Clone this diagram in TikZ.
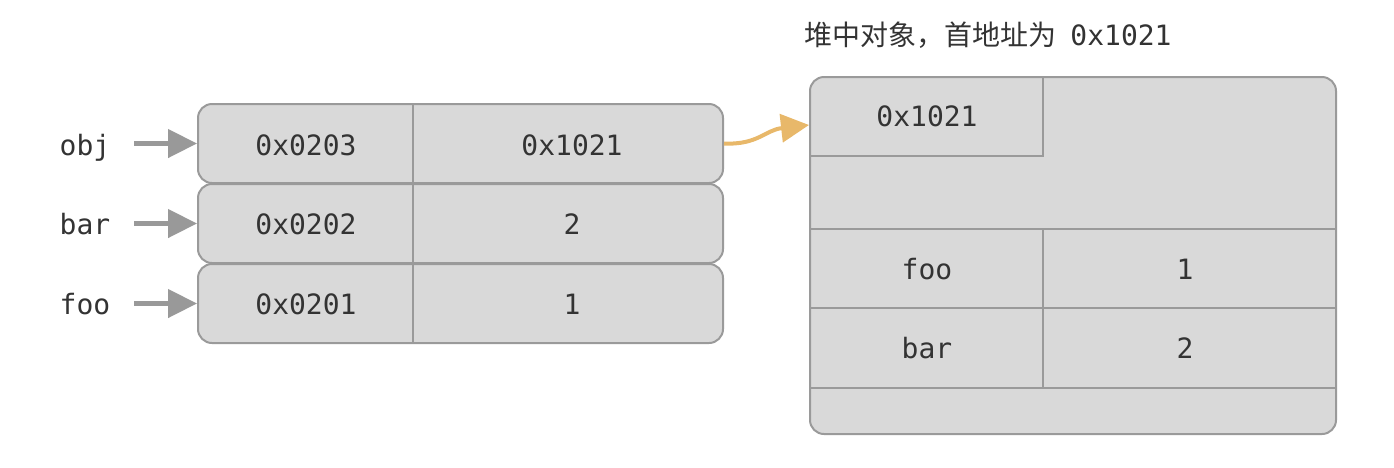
\documentclass[tikz,border=0pt]{standalone}
\usepackage{fontspec}
\setmonofont{DejaVu Sans Mono}
\newfontfamily\cjk{Noto Sans CJK SC}
\usetikzlibrary{arrows.meta}
\definecolor{boxfill}{HTML}{D9D9D9}
\definecolor{boxline}{HTML}{9A9A9A}
\definecolor{txt}{HTML}{333333}
\definecolor{arrowgray}{HTML}{999999}
\definecolor{orangeline}{HTML}{E8B86A}
\tikzset{
  rowbox/.style={draw=boxline, fill=boxfill, line width=2pt, rounded corners=14pt,
    minimum width=525pt, minimum height=79pt, inner sep=0pt},
  heapbox/.style={draw=boxline, fill=boxfill, line width=2pt, rounded corners=14pt,
    minimum width=526pt, minimum height=357pt, inner sep=0pt},
  divider/.style={draw=boxline, line width=2pt},
  celltext/.style={font=\ttfamily\fontsize{28}{30}\selectfont, text=txt, inner sep=0pt, anchor=base},
  garrow/.style={draw=arrowgray, line width=4.5pt, -{Triangle[length=29pt,width=28pt]}},
  oarrow/.style={draw=orangeline, line width=4pt, -{Triangle[length=28pt,width=28pt]}},
}
\begin{document}
\begin{tikzpicture}[x=1pt,y=-1pt]
\useasboundingbox (0,0) rectangle (1394,467);
% left stack
\node[rowbox] (r1) at (460.5,143.5) {};
\node[rowbox] (r2) at (460.5,223.5) {};
\node[rowbox] (r3) at (460.5,303.5) {};
\draw[divider] (413,104) -- (413,183);
\draw[divider] (413,184) -- (413,263);
\draw[divider] (413,264) -- (413,343);
\node[celltext] (a1) at (306,155) {0x0203};
\node[celltext] (v1) at (572,155) {0x1021};
\node[celltext] (a2) at (306,234) {0x0202};
\node[celltext] (v2) at (572,234) {2};
\node[celltext] (a3) at (306,314) {0x0201};
\node[celltext] (v3) at (572,314) {1};
% variable labels
\node[celltext] (lobj) at (85,155) {obj};
\node[celltext] (lbar) at (85,234) {bar};
\node[celltext] (lfoo) at (85,314) {foo};
\draw[garrow] ([xshift=24pt]lobj.east |- r1.west) -- (r1.west);
\draw[garrow] ([xshift=24pt]lbar.east |- r2.west) -- (r2.west);
\draw[garrow] ([xshift=24pt]lfoo.east |- r3.west) -- (r3.west);
% heap object
\node[heapbox] (heap) at (1073,255.5) {};
\draw[divider] (1043,77) -- (1043,156) -- (810,156);
\draw[divider] (810,229) -- (1336,229);
\draw[divider] (810,308) -- (1336,308);
\draw[divider] (810,388) -- (1336,388);
\draw[divider] (1043,229) -- (1043,388);
\node[celltext] (h0) at (927,126) {0x1021};
\node[celltext] (hk1) at (927,279) {foo};
\node[celltext] (hv1) at (1185,279) {1};
\node[celltext] (hk2) at (927,358) {bar};
\node[celltext] (hv2) at (1185,358) {2};
% title
\node[text=txt, inner sep=0pt, anchor=base, font=\fontsize{28}{30}\selectfont] (title) at (988,45)
  {{\cjk 堆中对象，首地址为}\hspace{14pt}{\ttfamily 0x1021}};
% pointer
\coordinate (hin) at (809,125);
\draw[oarrow] (r1.east) .. controls (758,145) and (765,130) .. (hin);
\end{tikzpicture}
\end{document}
